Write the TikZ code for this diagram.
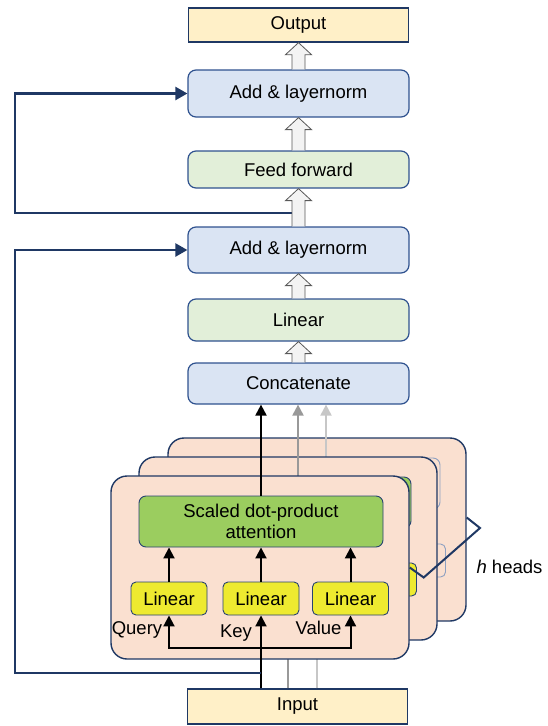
\documentclass[tikz,border=0pt]{standalone}
\usepackage{fontspec}
\setmainfont{Liberation Sans}
\usetikzlibrary{arrows.meta,positioning,calc}
\definecolor{navyline}{RGB}{31,56,100}
\definecolor{boxline}{RGB}{47,82,143}
\definecolor{ioyellow}{RGB}{255,240,200}
\definecolor{normblue}{RGB}{218,228,243}
\definecolor{ffgreen}{RGB}{226,239,217}
\definecolor{headpeach}{RGB}{250,224,208}
\definecolor{attgreen}{RGB}{155,205,95}
\definecolor{linyellow}{RGB}{238,234,48}
\definecolor{hollowgray}{RGB}{243,243,243}

\tikzset{
  iobox/.style={draw=navyline, line width=1.3pt, fill=ioyellow, minimum width=220pt, minimum height=34pt},
  stagebox/.style={draw=boxline, line width=1.2pt, rounded corners=8pt, minimum width=221pt},
  normbox/.style={stagebox, fill=normblue, minimum height=47pt},
  ffbox/.style={stagebox, fill=ffgreen, minimum height=37pt},
  headbox/.style={draw=navyline, line width=1.4pt, rounded corners=16pt, fill=headpeach, minimum width=298pt, minimum height=183pt},
  attbox/.style={draw=boxline!80!black, line width=0.9pt, rounded corners=7pt, fill=attgreen, minimum width=244pt, minimum height=51pt, align=center, font=\fontsize{18.5}{21}\selectfont},
  linbox/.style={draw=boxline!80!black, line width=0.9pt, rounded corners=5pt, fill=linyellow, minimum width=76pt, minimum height=33pt},
  faded/.style={draw=boxline!55, fill=headpeach},
  blkarrow/.style={draw=black, line width=2pt, -{Triangle[length=11pt,width=11pt]}},
  blkfork/.style={draw=black, line width=2pt, line join=miter, {Triangle[length=11pt,width=11pt]}-{Triangle[length=11pt,width=11pt]}},
  grayarrow/.style={line width=2pt, -{Triangle[length=11pt,width=11pt]}},
  resline/.style={draw=navyline, line width=2.4pt, -{Triangle[length=12pt,width=13pt]}},
  brkline/.style={draw=navyline, line width=2pt},
  hollowarrow/.style={draw=black!65, line width=0.8pt, fill=hollowgray, line join=miter},
}

% block arrow from #1 (below) up to #2 (above)
\newcommand{\hollowup}[2]{%
  \draw[hollowarrow] let \p1=(#1.north), \p2=(#2.south) in
    (\x1-6.5,\y1) -- (\x1-6.5,\y2-12) -- (\x1-13,\y2-12) -- (\x1,\y2)
    -- (\x1+13,\y2-12) -- (\x1+6.5,\y2-12) -- (\x1+6.5,\y1);}

\begin{document}
\begin{tikzpicture}[x=1pt, y=-1pt, font=\fontsize{18.5}{22}\selectfont]
  \useasboundingbox (0,0) rectangle (548,726);

  % encoder stages
  \node[iobox] (out) at (298.5,25) {Output};
  \node[normbox] (addtop) at (298.5,93.5) {Add \& layernorm};
  \node[ffbox] (ff) at (298.5,169.5) {Feed forward};
  \node[normbox, minimum height=46pt] (addmid) at (298.5,250) {Add \& layernorm};
  \node[ffbox, minimum height=42pt] (lin) at (298.5,320) {Linear};
  \node[normbox, minimum height=41pt] (concat) at (298.5,383.5) {Concatenate};
  \node[iobox, minimum height=35pt] (inp) at (297.5,706.5) {Input};

  % back heads
  \node[headbox] (head3) at (317,529.5) {};
  \node[attbox, faded] (att3) at (318,483.5) {};
  \node[linbox, faded] (lv3) at (407.5,560.5) {};
  \coordinate (g3) at ([xshift=8pt]att3.north);
  \draw[grayarrow, black!22] (g3) -- (g3 |- concat.south);
  \draw[line width=2pt, black!22] (inp.north -| head3.south) -- (head3.south);

  \node[headbox] (head2) at (288,548.5) {};
  \node[attbox] (att2) at (289,502.5) {};
  \node[linbox] (lv2) at (378.5,579.5) {};
  \coordinate (g2) at ([xshift=9pt]att2.north);
  \draw[grayarrow, black!40] (g2) -- (g2 |- concat.south);
  \draw[line width=2pt, black!40] (inp.north -| head2.south) -- (head2.south);

  % front head
  \node[headbox] (head1) at (260,567.5) {};
  \node[attbox] (att1) at (261,521.5) {Scaled dot-product\\attention};
  \node[linbox] (lq) at (169,598.5) {Linear};
  \node[linbox] (lk) at (261,598.5) {Linear};
  \node[linbox] (lv) at (350.5,598.5) {Linear};
  \node (qlab) at (137,629.5) {Query};
  \node (klab) at (236,633.5) {Key};
  \node (vlab) at (318.5,627.5) {Value};

  \draw[blkarrow] (lq.north) -- (att1.south -| lq.north);
  \draw[blkarrow] (lk.north) -- (att1.south -| lk.north);
  \draw[blkarrow] (lv.north) -- (att1.south -| lv.north);
  \draw[blkarrow] (att1.north) -- (concat.south -| att1.north);

  \coordinate (split) at (261,648);
  \draw[blkfork] (lq.south) -- (split -| lq) -- (split -| lv) -- (lv.south);
  \draw[blkarrow] (inp.north -| lk) -- (lk.south);

  % h heads
  \coordinate (hpt) at (480,528);
  \draw[brkline] (head1.east) -- ++(14,10) -- (hpt) -- ([yshift=12pt]head3.east);
  \node[anchor=west] (hlabel) at (473,567) {\textit{h} heads};

  % residual connections
  \coordinate (lft) at (15,0);
  \coordinate (r1) at (261,673);
  \coordinate (r2) at (292,213);
  \draw[resline] (r1) -- (r1 -| lft) |- (addmid.west);
  \draw[resline] (r2) -- (r2 -| lft) |- (addtop.west);

  % block arrows
  \hollowup{concat}{lin}
  \hollowup{lin}{addmid}
  \hollowup{addmid}{ff}
  \hollowup{ff}{addtop}
  \hollowup{addtop}{out}
\end{tikzpicture}
\end{document}
